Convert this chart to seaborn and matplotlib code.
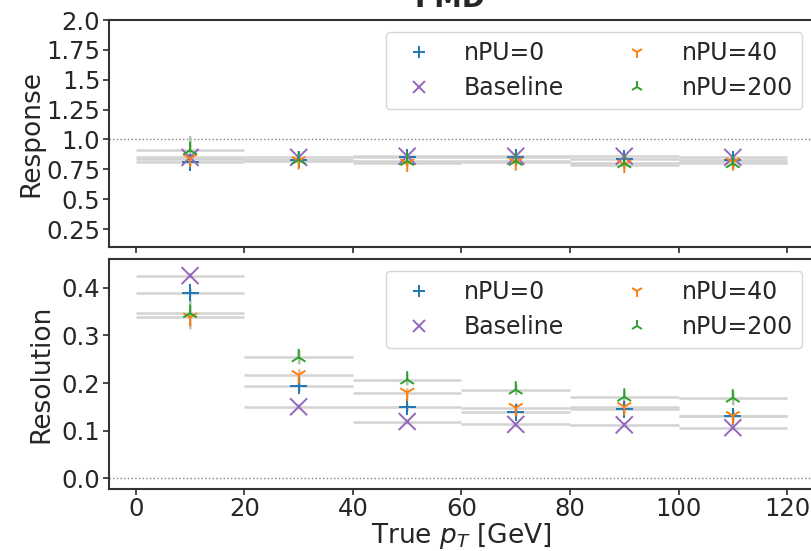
import numpy as np
import pandas as pd
import matplotlib
matplotlib.use("Agg")
import matplotlib.pyplot as plt
import seaborn as sns

# ---- data ----
bin_centers = [10, 30, 50, 70, 90, 110]
bin_halfwidth = [10, 10, 10, 10, 10, 10]
series_names = ["nPU=0", "Baseline", "nPU=40", "nPU=200"]

resp_npu0 = [0.81, 0.83, 0.85, 0.85, 0.84, 0.83]
resp_base = [0.85, 0.85, 0.86, 0.86, 0.86, 0.85]
resp_npu40 = [0.84, 0.82, 0.80, 0.81, 0.79, 0.81]
resp_npu200 = [0.91, 0.83, 0.82, 0.82, 0.80, 0.80]

resp_err_npu0 = [0.03, 0.01, 0.01, 0.01, 0.01, 0.01]
resp_err_base = [0.02, 0.01, 0.01, 0.01, 0.01, 0.01]
resp_err_npu40 = [0.05, 0.02, 0.03, 0.02, 0.03, 0.03]
resp_err_npu200 = [0.12, 0.02, 0.02, 0.02, 0.03, 0.05]

res_npu0 = [0.390, 0.194, 0.150, 0.139, 0.145, 0.130]
res_base = [0.426, 0.150, 0.119, 0.113, 0.112, 0.106]
res_npu40 = [0.338, 0.217, 0.180, 0.148, 0.150, 0.131]
res_npu200 = [0.347, 0.254, 0.207, 0.186, 0.171, 0.169]

res_err_npu0 = [0.010, 0.010, 0.008, 0.008, 0.008, 0.010]
res_err_base = [0.005, 0.005, 0.005, 0.005, 0.005, 0.005]
res_err_npu40 = [0.025, 0.012, 0.010, 0.010, 0.012, 0.015]
res_err_npu200 = [0.030, 0.015, 0.012, 0.012, 0.012, 0.015]

resp_yticks = [0.25, 0.5, 0.75, 1.0, 1.25, 1.5, 1.75, 2.0]
resp_yticklabels = ["0.25", "0.5", "0.75", "1.0", "1.25", "1.5", "1.75", "2.0"]
res_yticks = [0.0, 0.1, 0.2, 0.3, 0.4]
x_ticks = [0, 20, 40, 60, 80, 100, 120]

# ---- style ----
sns.set_theme(style="ticks")
plt.rcParams['font.family'] = ['DejaVu Sans']

palette = sns.color_palette("tab10")
colors = {"nPU=0": palette[0], "Baseline": palette[4],
          "nPU=40": palette[1], "nPU=200": palette[2]}
markers = {"nPU=0": "+", "Baseline": "x", "nPU=40": "1", "nPU=200": "2"}

resp = {"nPU=0": (resp_npu0, resp_err_npu0), "Baseline": (resp_base, resp_err_base),
        "nPU=40": (resp_npu40, resp_err_npu40), "nPU=200": (resp_npu200, resp_err_npu200)}
reso = {"nPU=0": (res_npu0, res_err_npu0), "Baseline": (res_base, res_err_base),
        "nPU=40": (res_npu40, res_err_npu40), "nPU=200": (res_npu200, res_err_npu200)}

rows = []
for name in series_names:
    for i, x in enumerate(bin_centers):
        rows.append({"series": name, "pt": x, "xerr": bin_halfwidth[i],
                     "response": resp[name][0][i], "resp_err": resp[name][1][i],
                     "resolution": reso[name][0][i], "res_err": reso[name][1][i]})
df = pd.DataFrame(rows)

fig = plt.figure(figsize=(8.11, 5.51), dpi=100)
ax1 = fig.add_axes([0.134, 0.5517, 0.870, 0.412])
ax2 = fig.add_axes([0.134, 0.1125, 0.870, 0.4175], sharex=ax1)

for ax, col, ecol in [(ax1, "response", "resp_err"), (ax2, "resolution", "res_err")]:
    for name in series_names:
        d = df[df.series == name]
        ax.errorbar(d.pt, d[col], xerr=d.xerr, yerr=d[ecol], fmt="none",
                    ecolor="lightgray", elinewidth=1.8, zorder=1)
        ax.errorbar(d.pt, d[col], yerr=d[ecol], fmt="none",
                    ecolor=colors[name], alpha=0.3, elinewidth=1.5, zorder=1)
    sns.scatterplot(data=df, x="pt", y=col, hue="series", style="series",
                    hue_order=series_names, style_order=series_names,
                    palette=colors, markers=markers, s=150, linewidth=1.4,
                    ax=ax, zorder=3, legend=True)
    h, l = ax.get_legend_handles_labels()
    ax.legend(h, l, loc="upper right", ncol=2, fontsize=17, frameon=True,
              borderpad=0.4, columnspacing=2.1, handletextpad=0.9,
              labelspacing=0.45, markerscale=0.75, borderaxespad=0.5)

ax1.axhline(1.0, color="gray", ls=":", lw=1, zorder=0)
ax2.axhline(0.0, color="gray", ls=":", lw=1, zorder=0)

ax1.set_xlim(-5, 125)
ax1.set_ylim(0.1, 2.0)
ax1.set_yticks(resp_yticks)
ax1.set_yticklabels(resp_yticklabels)
ax2.set_ylim(-0.023, 0.461)
ax2.set_yticks(res_yticks)
ax2.set_xticks(x_ticks)
plt.setp(ax1.get_xticklabels(), visible=False)

ax1.set_xlabel("")
ax1.set_ylabel("Response", fontsize=19, labelpad=1)
ax2.set_ylabel("Resolution", fontsize=19, labelpad=5)
ax2.set_xlabel("True $p_T$ [GeV]", fontsize=19, labelpad=0)
for ax in (ax1, ax2):
    ax.tick_params(labelsize=17.5, length=4, color="#333333", pad=2)
    for s in ax.spines.values():
        s.set_color("#333333")
        s.set_linewidth(1.5)

fig.text(0.555, 0.987, "PMD", ha="center", va="baseline", fontsize=20, fontweight="bold")

fig.savefig("out.png", dpi=100)
